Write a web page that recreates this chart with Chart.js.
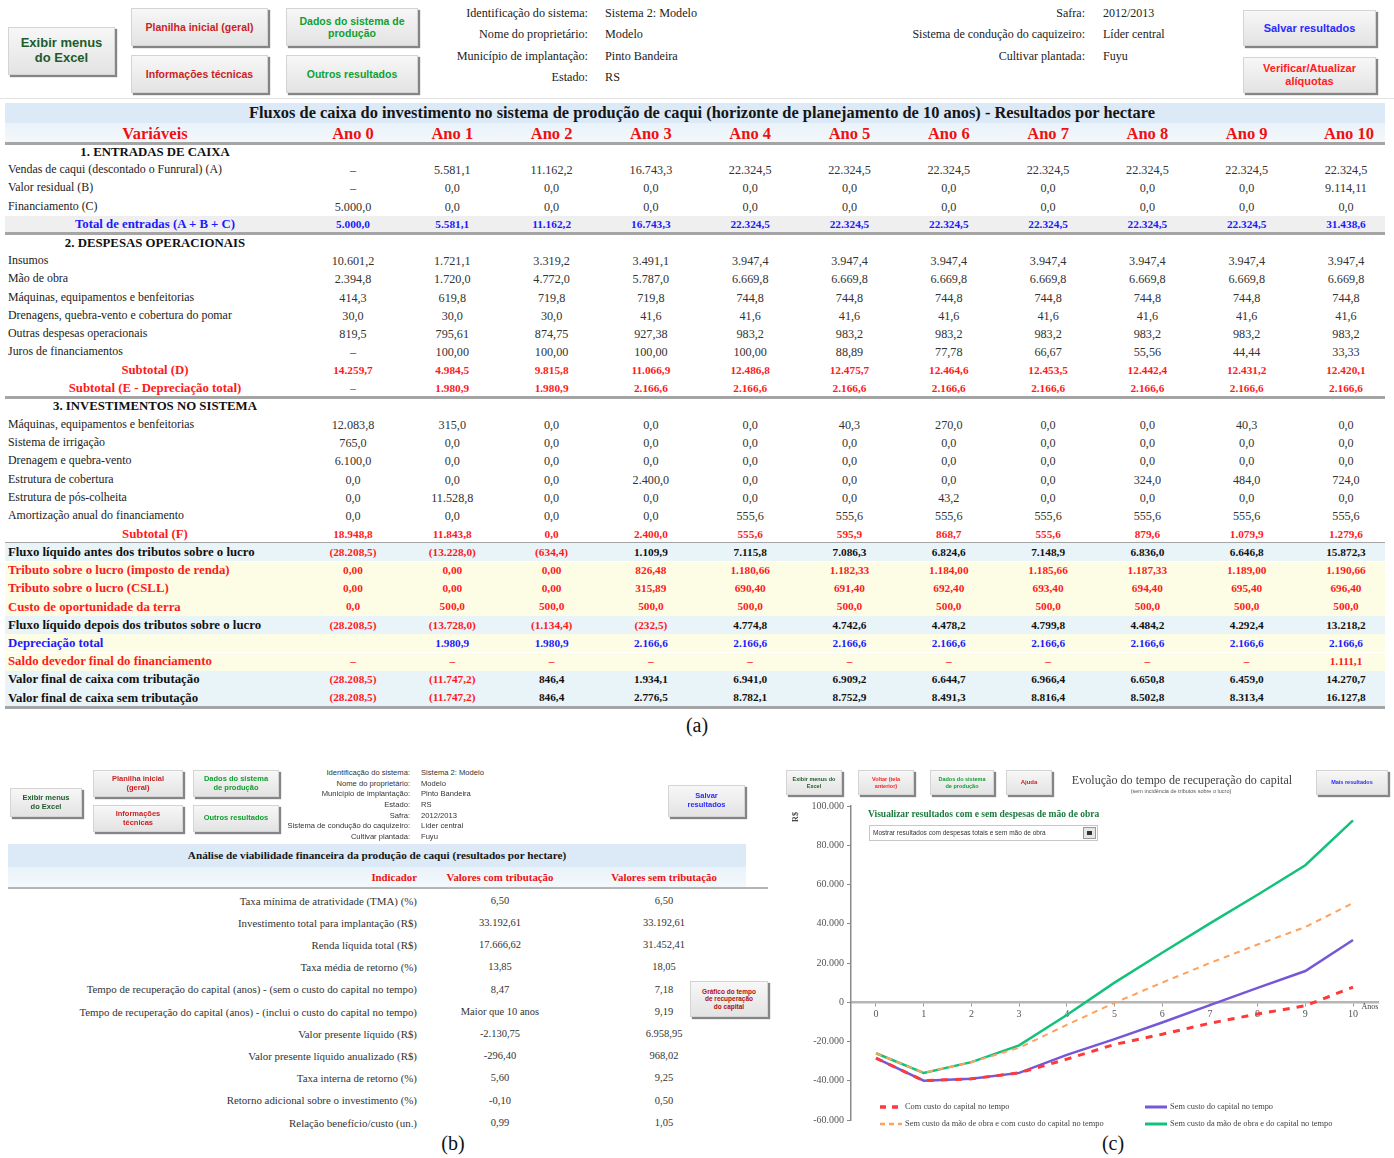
<!DOCTYPE html>
<html><head><meta charset="utf-8">
<script src="https://cdn.jsdelivr.net/npm/chart.js@4.4.0/dist/chart.umd.min.js"></script>
<style>
html,body{margin:0;padding:0;background:#fff;}
#root{position:relative;width:1394px;height:1158px;overflow:hidden;font-family:'Liberation Serif','Times New Roman',serif;color:#222;}
.t{position:absolute;white-space:nowrap;line-height:1;}
.r{position:absolute;}
.btn{position:absolute;box-sizing:border-box;background:linear-gradient(#f7f7f7,#e3e3e3);border:1px solid #d4d4d4;box-shadow:2px 2px 1px #858585;display:flex;align-items:center;justify-content:center;text-align:center;font-family:'Liberation Sans',Arial,sans-serif;font-weight:bold;line-height:1.15;}
#chartBox{position:absolute;left:780px;top:796px;width:614px;height:334px;}
</style></head><body><div id="root"><div id="chartBox"><canvas id="c" width="614" height="334"></canvas></div></div>
<script>
// ---------------- DATA ----------------
const anos = ['Ano 0','Ano 1','Ano 2','Ano 3','Ano 4','Ano 5','Ano 6','Ano 7','Ano 8','Ano 9','Ano 10'];
const vendasCaqui = ['–','5.581,1','11.162,2','16.743,3','22.324,5','22.324,5','22.324,5','22.324,5','22.324,5','22.324,5','22.324,5'];
const valorResidual = ['–','0,0','0,0','0,0','0,0','0,0','0,0','0,0','0,0','0,0','9.114,11'];
const financiamento = ['5.000,0','0,0','0,0','0,0','0,0','0,0','0,0','0,0','0,0','0,0','0,0'];
const totalEntradas = ['5.000,0','5.581,1','11.162,2','16.743,3','22.324,5','22.324,5','22.324,5','22.324,5','22.324,5','22.324,5','31.438,6'];
const insumos = ['10.601,2','1.721,1','3.319,2','3.491,1','3.947,4','3.947,4','3.947,4','3.947,4','3.947,4','3.947,4','3.947,4'];
const maoDeObra = ['2.394,8','1.720,0','4.772,0','5.787,0','6.669,8','6.669,8','6.669,8','6.669,8','6.669,8','6.669,8','6.669,8'];
const maquinasDesp = ['414,3','619,8','719,8','719,8','744,8','744,8','744,8','744,8','744,8','744,8','744,8'];
const drenagensDesp = ['30,0','30,0','30,0','41,6','41,6','41,6','41,6','41,6','41,6','41,6','41,6'];
const outrasDesp = ['819,5','795,61','874,75','927,38','983,2','983,2','983,2','983,2','983,2','983,2','983,2'];
const juros = ['–','100,00','100,00','100,00','100,00','88,89','77,78','66,67','55,56','44,44','33,33'];
const subtotalD = ['14.259,7','4.984,5','9.815,8','11.066,9','12.486,8','12.475,7','12.464,6','12.453,5','12.442,4','12.431,2','12.420,1'];
const subtotalE = ['–','1.980,9','1.980,9','2.166,6','2.166,6','2.166,6','2.166,6','2.166,6','2.166,6','2.166,6','2.166,6'];
const maquinasInv = ['12.083,8','315,0','0,0','0,0','0,0','40,3','270,0','0,0','0,0','40,3','0,0'];
const irrigacao = ['765,0','0,0','0,0','0,0','0,0','0,0','0,0','0,0','0,0','0,0','0,0'];
const drenagemInv = ['6.100,0','0,0','0,0','0,0','0,0','0,0','0,0','0,0','0,0','0,0','0,0'];
const cobertura = ['0,0','0,0','0,0','2.400,0','0,0','0,0','0,0','0,0','324,0','484,0','724,0'];
const posColheita = ['0,0','11.528,8','0,0','0,0','0,0','0,0','43,2','0,0','0,0','0,0','0,0'];
const amortizacao = ['0,0','0,0','0,0','0,0','555,6','555,6','555,6','555,6','555,6','555,6','555,6'];
const subtotalF = ['18.948,8','11.843,8','0,0','2.400,0','555,6','595,9','868,7','555,6','879,6','1.079,9','1.279,6'];
const fluxoAntes = ['(28.208,5)','(13.228,0)','(634,4)','1.109,9','7.115,8','7.086,3','6.824,6','7.148,9','6.836,0','6.646,8','15.872,3'];
const tributoIR = ['0,00','0,00','0,00','826,48','1.180,66','1.182,33','1.184,00','1.185,66','1.187,33','1.189,00','1.190,66'];
const tributoCSLL = ['0,00','0,00','0,00','315,89','690,40','691,40','692,40','693,40','694,40','695,40','696,40'];
const custoTerra = ['0,0','500,0','500,0','500,0','500,0','500,0','500,0','500,0','500,0','500,0','500,0'];
const fluxoDepois = ['(28.208,5)','(13.728,0)','(1.134,4)','(232,5)','4.774,8','4.742,6','4.478,2','4.799,8','4.484,2','4.292,4','13.218,2'];
const depreciacao = ['','1.980,9','1.980,9','2.166,6','2.166,6','2.166,6','2.166,6','2.166,6','2.166,6','2.166,6','2.166,6'];
const saldoDevedor = ['–','–','–','–','–','–','–','–','–','–','1.111,1'];
const valorFinalCom = ['(28.208,5)','(11.747,2)','846,4','1.934,1','6.941,0','6.909,2','6.644,7','6.966,4','6.650,8','6.459,0','14.270,7'];
const valorFinalSem = ['(28.208,5)','(11.747,2)','846,4','2.776,5','8.782,1','8.752,9','8.491,3','8.816,4','8.502,8','8.313,4','16.127,8'];

const indicadores = ['Taxa mínima de atratividade (TMA) (%)','Investimento total para implantação (R$)','Renda líquida total (R$)','Taxa média de retorno (%)','Tempo de recuperação do capital (anos) - (sem o custo do capital no tempo)','Tempo de recuperação do capital (anos) - (inclui o custo do capital no tempo)','Valor presente líquido (R$)','Valor presente líquido anualizado (R$)','Taxa interna de retorno (%)','Retorno adicional sobre o investimento (%)','Relação benefício/custo (un.)'];
const valoresCom = ['6,50','33.192,61','17.666,62','13,85','8,47','Maior que 10 anos','-2.130,75','-296,40','5,60','-0,10','0,99'];
const valoresSem = ['6,50','33.192,61','31.452,41','18,05','7,18','9,19','6.958,95','968,02','9,25','0,50','1,05'];

// chart (c)
const anosGrafico = [0,1,2,3,4,5,6,7,8,9,10];
const comCustoCapital = [-28500,-40000,-39000,-36000,-29000,-21500,-16300,-10700,-6000,-1800,7700];
const semCustoCapital = [-28500,-40000,-39000,-36000,-26800,-18800,-10300,-1500,7300,15900,31700];
const semMaoObraComCapital = [-26000,-36000,-30500,-23200,-11500,-300,10000,20000,29400,38300,50600];
const semMaoObraSemCapital = [-26000,-36000,-30500,-22000,-6500,10000,25200,40200,54800,69800,92700];
const yTicks = [-60000,-40000,-20000,0,20000,40000,60000,80000,100000];
const legendLabels = ['Com custo do capital no tempo','Sem custo da mão de obra e com custo do capital no tempo','Sem custo do capital no tempo','Sem custo da mão de obra e do capital no tempo'];

// ---------------- HELPERS ----------------
const root = document.getElementById('root');
function T(text, x, y, o={}) {
  const d = document.createElement('div'); d.className='t'; d.textContent = text;
  const size = o.size || 11; d.style.fontSize = size+'px';
  if (o.bold) d.style.fontWeight = 'bold';
  d.style.color = o.color || '#222';
  if (o.font) d.style.fontFamily = o.font;
  const w = o.w || 700, align = o.align || 'left';
  const left = align==='left' ? x : align==='right' ? x-w : x-w/2;
  d.style.left = left+'px'; d.style.width = w+'px'; d.style.textAlign = align;
  d.style.top = (y - size*0.5)+'px';
  if (o.z) d.style.zIndex = o.z;
  root.appendChild(d); return d;
}
function R(x,y,w,h,bg,extra){ const d=document.createElement('div'); d.className='r';
  d.style.left=x+'px'; d.style.top=y+'px'; d.style.width=w+'px'; d.style.height=h+'px'; d.style.background=bg;
  if(extra) Object.assign(d.style, extra); root.appendChild(d); return d; }
function B(html,x1,y1,x2,y2,color,size){ const d=document.createElement('div'); d.className='btn';
  d.innerHTML=html; d.style.left=x1+'px'; d.style.top=y1+'px'; d.style.width=(x2-x1)+'px'; d.style.height=(y2-y1)+'px';
  d.style.color=color; d.style.fontSize=size+'px'; d.style.zIndex=5; root.appendChild(d); return d; }

// ---------------- PANEL (a) ----------------
B('Exibir menus<br>do Excel',8,27,115,75,'#1d5c2a',13);
B('Planilha inicial (geral)',131,8,268,46,'#cc1f1f',10.5);
B('Informações técnicas',131,55,268,93,'#cc1f1f',10.5);
B('Dados do sistema de<br>produção',286,8,418,46,'#10a030',10.5);
B('Outros resultados',286,55,418,93,'#10a030',10.5);
B('Salvar resultados',1243,10,1376,46,'#2a2aff',11);
B('Verificar/Atualizar<br>alíquotas',1243,57,1376,93,'#ff2020',11);
const infoL = ['Identificação do sistema:','Nome do proprietário:','Município de implantação:','Estado:'];
const infoV = ['Sistema 2: Modelo','Modelo','Pinto Bandeira','RS'];
infoL.forEach((s,i)=>{ T(s,588,13+21.3*i,{align:'right',w:300,size:12.2}); T(infoV[i],605,13+21.3*i,{size:12.2}); });
const info2L = ['Safra:','Sistema de condução do caquizeiro:','Cultivar plantada:'];
const info2V = ['2012/2013','Líder central','Fuyu'];
info2L.forEach((s,i)=>{ T(s,1085,13+21.3*i,{align:'right',w:300,size:12}); T(info2V[i],1103,13+21.3*i,{size:12}); });
R(0,98,1394,1,'#e2e2e2');

const TL=5, TW=1380;
R(TL,103,TW,20,'#dce9f6');
T('Fluxos de caixa do investimento no sistema de produção de caqui (horizonte de planejamento de 10 anos) - Resultados por hectare',702,113.5,{align:'center',w:1200,size:16.4,bold:true,color:'#151515'});
R(TL,123,TW,20,'linear-gradient(#eaf3fa,#f3f8fb)');
const colX = i => 353 + 99.3*i;
T('Variáveis',155,134,{align:'center',w:200,size:16.5,bold:true,color:'#ee1111'});
anos.forEach((a,i)=> T(a,colX(i)+(i===10?3:0),134,{align:'center',w:90,size:16.5,bold:true,color:'#ee1111'}));
R(TL,142,TW,3,'#a5a5a5');

const rows = [
 {sec:'1. ENTRADAS DE CAIXA'},
 {l:'Vendas de caqui (descontado o Funrural) (A)', v:vendasCaqui},
 {l:'Valor residual (B)', v:valorResidual},
 {l:'Financiamento (C)', v:financiamento},
 {l:'Total de entradas (A + B + C)', v:totalEntradas, k:'total'},
 {line:true},
 {sec:'2. DESPESAS OPERACIONAIS'},
 {l:'Insumos', v:insumos},
 {l:'Mão de obra', v:maoDeObra},
 {l:'Máquinas, equipamentos e benfeitorias', v:maquinasDesp},
 {l:'Drenagens, quebra-vento e cobertura do pomar', v:drenagensDesp},
 {l:'Outras despesas operacionais', v:outrasDesp},
 {l:'Juros de financiamentos', v:juros},
 {l:'Subtotal (D)', v:subtotalD, k:'sub'},
 {l:'Subtotal (E - Depreciação total)', v:subtotalE, k:'sub'},
 {line:true},
 {sec:'3. INVESTIMENTOS NO SISTEMA'},
 {l:'Máquinas, equipamentos e benfeitorias', v:maquinasInv},
 {l:'Sistema de irrigação', v:irrigacao},
 {l:'Drenagem e quebra-vento', v:drenagemInv},
 {l:'Estrutura de cobertura', v:cobertura},
 {l:'Estrutura de pós-colheita', v:posColheita},
 {l:'Amortização anual do financiamento', v:amortizacao},
 {l:'Subtotal (F)', v:subtotalF, k:'sub'},
 {line:true},
 {l:'Fluxo líquido antes dos tributos sobre o lucro', v:fluxoAntes, k:'flux'},
 {l:'Tributo sobre o lucro (imposto de renda)', v:tributoIR, k:'red'},
 {l:'Tributo sobre o lucro (CSLL)', v:tributoCSLL, k:'red'},
 {l:'Custo de oportunidade da  terra', v:custoTerra, k:'red'},
 {l:'Fluxo líquido depois dos tributos sobre o lucro', v:fluxoDepois, k:'flux'},
 {l:'Depreciação total', v:depreciacao, k:'blue'},
 {l:'Saldo devedor final do financiamento', v:saldoDevedor, k:'red'},
 {l:'Valor final de caixa com tributação', v:valorFinalCom, k:'flux'},
 {l:'Valor final de caixa sem tributação', v:valorFinalSem, k:'flux'},
 {line:true}
];
const RH = 18.2; let n = 0;
rows.forEach(r=>{
  const y = 152 + RH*n;
  if (r.line) { R(TL, Math.round(y - RH/2 - 1.5), TW, 3, '#a5a5a5'); return; }
  n++;
  if (r.sec) { T(r.sec,155,y,{align:'center',w:300,size:12.8,bold:true,color:'#111'}); return; }
  const k = r.k || 'n';
  if (k==='total') R(TL, y-RH/2, TW, RH, '#efefef');
  if (k==='flux') R(TL, y-RH/2, TW, RH, '#e9f4f9');
  if (k==='red' || k==='blue') R(TL, y-RH/2, TW, RH, '#fdfde6');
  let lc='#222', bold=false, center=false;
  if (k==='total'){ lc='#1a1aff'; bold=true; center=true; }
  if (k==='sub'){ lc='#ff1a1a'; bold=true; center=true; }
  if (k==='flux'){ lc='#111'; bold=true; }
  if (k==='red'){ lc='#ff1a1a'; bold=true; }
  if (k==='blue'){ lc='#1a1aff'; bold=true; }
  const ls = bold ? 12.8 : 11.9;
  if (center) T(r.l,155,y,{align:'center',w:300,size:ls,bold,color:lc});
  else T(r.l,8,y,{size:ls,bold,color:lc});
  r.v.forEach((v,i)=>{
    let c = lc;
    if (k==='n') c='#333';
    if (k==='flux') c = v.startsWith('(') ? '#ff1a1a' : '#111';
    T(v,colX(i),y,{align:'center',w:96,size:bold?11.3:12.2,bold,color:c});
  });
});
T('(a)',697,725,{align:'center',w:60,size:20,color:'#111'});

// ---------------- PANEL (b) ----------------
B('Exibir menus<br>do Excel',10,788,82,817,'#1d5c2a',7.5);
B('Planilha inicial<br>(geral)',93,770,183,797,'#cc1f1f',7.5);
B('Informações<br>técnicas',93,805,183,832,'#cc1f1f',7.5);
B('Dados do sistema<br>de produção',193,770,279,797,'#10a030',7.5);
B('Outros resultados',193,805,279,832,'#10a030',7.5);
B('Salvar<br>resultados',668,785,745,817,'#2a2aff',7.5);
B('Gráfico do tempo<br>de recuperação<br>do capital',690,981,768,1017,'#b01010',6.5);
const bInfoL = ['Identificação do sistema:','Nome do proprietário:','Município de implantação:','Estado:','Safra:','Sistema de condução do caquizeiro:','Cultivar plantada:'];
const bInfoV = ['Sistema 2: Modelo','Modelo','Pinto Bandeira','RS','2012/2013','Líder central','Fuyu'];
bInfoL.forEach((s,i)=>{ const y=773+10.6*i;
  T(s,410,y,{align:'right',w:200,size:7.6,font:"'Liberation Sans',Arial,sans-serif",color:'#333'});
  T(bInfoV[i],421,y,{size:7.6,font:"'Liberation Sans',Arial,sans-serif",color:'#333'}); });
R(8,844,738,23,'#dce9f6');
T('Análise de viabilidade financeira da produção de caqui (resultados por hectare)',377,856,{align:'center',w:600,size:11.2,bold:true,color:'#151515'});
R(8,867,738,20,'linear-gradient(#eaf3fa,#f3f8fb)');
T('Indicador',417,877,{align:'right',w:100,size:10.8,bold:true,color:'#ee1111'});
T('Valores com tributação',500,877,{align:'center',w:160,size:10.8,bold:true,color:'#ee1111'});
T('Valores sem tributação',664,877,{align:'center',w:160,size:10.8,bold:true,color:'#ee1111'});
R(8,887,760,2,'#b5b5b5');
indicadores.forEach((s,i)=>{ const y = 901 + 22.2*i;
  T(s,417,y,{align:'right',w:400,size:10.9,color:'#333'});
  T(valoresCom[i],500,y,{align:'center',w:150,size:10.5,color:'#333'});
  T(valoresSem[i],664,y,{align:'center',w:150,size:10.5,color:'#333'}); });
T('(b)',453,1143,{align:'center',w:60,size:20,color:'#111'});

// ---------------- PANEL (c) ----------------
B('Exibir menus do<br>Excel',786,770,842,795,'#1d5c2a',5.5);
B('Voltar (tela<br>anterior)',858,770,914,795,'#ff2020',5.5);
B('Dados do sistema<br>de produção',930,770,994,795,'#10a030',5.5);
B('Ajuda',1006,770,1052,795,'#cc1f1f',6);
B('Mais resultados',1316,770,1388,795,'#2a2aff',5.5);
T('Evolução do tempo de recuperação do capital',1182,780,{align:'center',w:300,size:12.1,color:'#444'});
T('(sem incidência de tributos sobre o lucro)',1181,792,{align:'center',w:200,size:5.5,color:'#555',font:"'Liberation Sans',Arial,sans-serif"});
const rs = T('R$',796,817,{align:'center',w:20,size:8,bold:true,color:'#444'}); rs.style.transform='rotate(-90deg)';
T('Anos',1370,1007,{align:'center',w:40,size:8,color:'#444'});
T('Visualizar resultados com e sem despesas de mão de obra',868,815,{size:9.5,bold:true,color:'#1b7a3c',z:6});
R(869,825,229,16,'#fff',{border:'1px solid #c8c8c8',boxSizing:'border-box',zIndex:6});
T('Mostrar resultados com despesas totais e sem mão de obra',873,833,{size:6.5,color:'#333',font:"'Liberation Sans',Arial,sans-serif",z:7});
R(1083,827,13,12,'#e6e6e6',{border:'1px solid #999',boxSizing:'border-box',zIndex:7});
R(1087,831,5,4,'#333',{zIndex:8});
T('(c)',1113,1143,{align:'center',w:60,size:20,color:'#111'});

const dsStyle = [
  {label:legendLabels[0], data:comCustoCapital, color:'#ff3838', width:3, dash:[7,7]},
  {label:legendLabels[1], data:semMaoObraComCapital, color:'#ffa15e', width:2, dash:[6,5]},
  {label:legendLabels[2], data:semCustoCapital, color:'#7658d6', width:2.5, dash:[]},
  {label:legendLabels[3], data:semMaoObraSemCapital, color:'#12c27a', width:2.5, dash:[]}
];
// HTML legend
const legPos = [[880,1107],[880,1124],[1145,1107],[1145,1124]];
dsStyle.forEach((d,i)=>{
  const [x,y] = legPos[i];
  const svg = document.createElementNS('http://www.w3.org/2000/svg','svg');
  svg.setAttribute('width','24'); svg.setAttribute('height','8');
  svg.style.position='absolute'; svg.style.left=x+'px'; svg.style.top=(y-4)+'px'; svg.style.zIndex=6;
  const ln = document.createElementNS('http://www.w3.org/2000/svg','line');
  ln.setAttribute('x1','0'); ln.setAttribute('x2','22'); ln.setAttribute('y1','4'); ln.setAttribute('y2','4');
  ln.setAttribute('stroke',d.color); ln.setAttribute('stroke-width',d.width+0.5);
  if (d.dash.length) ln.setAttribute('stroke-dasharray', d.dash.map(v=>v-1).join(','));
  svg.appendChild(ln); root.appendChild(svg);
  T(d.label,x+25,y,{size:8.4,color:'#444',z:6});
});

const fmt = v => (v<0?'-':'') + String(Math.abs(v)).replace(/\B(?=(\d{3})+(?!\d))/g,'.');
new Chart(document.getElementById('c'), {
  type:'line',
  data:{ datasets: dsStyle.map(d=>({
    label:d.label, data: anosGrafico.map((x,i)=>({x, y:d.data[i]})),
    borderColor:d.color, backgroundColor:d.color, borderWidth:d.width, borderDash:d.dash,
    pointRadius:0, tension:0, fill:false }))},
  options:{
    responsive:false, animation:false,
    layout:{padding:{top:10,bottom:10,left:0,right:16}},
    plugins:{legend:{display:false}, tooltip:{enabled:false}},
    scales:{
      x:{ type:'linear', min:-0.524, max:10.524, position:{y:0},
          afterBuildTicks: s => { s.ticks = anosGrafico.map(v=>({value:v})); },
          grid:{display:true, drawOnChartArea:false, tickLength:3, color:'#999'},
          border:{color:'#b5b5b5', width:2.5},
          ticks:{color:'#555', padding:3, font:{family:'Liberation Serif', size:10}, callback:v=>String(v)} },
      y:{ min:-60000, max:100000,
          afterBuildTicks: s => { s.ticks = yTicks.map(v=>({value:v})); },
          afterFit: s => { s.width = 71; },
          grid:{display:true, drawOnChartArea:false, tickLength:4, color:'#888'},
          border:{color:'#8a8a8a', width:1.5},
          ticks:{color:'#555', padding:3, font:{family:'Liberation Serif', size:10}, callback:v=>fmt(v)} }
    }
  }
});
</script></body></html>
